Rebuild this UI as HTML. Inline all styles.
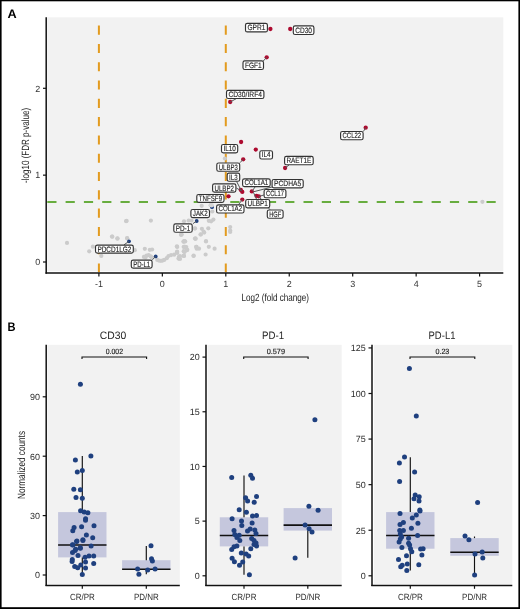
<!DOCTYPE html><html><head><meta charset="utf-8"><style>html,body{margin:0;padding:0;background:#fff;}svg{display:block;will-change:transform;text-rendering:geometricPrecision;font-family:"Liberation Sans",sans-serif;}</style></head><body>
<svg width="520" height="609" viewBox="0 0 520 609">
<rect x="0" y="0" width="520" height="609" fill="#fff"/>
<g transform="translate(7.6,18) scale(0.10191,0.1)"><text x="0" y="0" font-size="125.0" fill="#000" text-anchor="start" font-weight="bold" style="text-rendering:geometricPrecision" >A</text></g>
<g transform="translate(7.6,331) scale(0.08862,0.1)"><text x="0" y="0" font-size="125.0" fill="#000" text-anchor="start" font-weight="bold" style="text-rendering:geometricPrecision" >B</text></g>
<rect x="47.3" y="17.3" width="456.0" height="253.89999999999998" fill="#f2f2f2"/>
<line x1="98.90" y1="17.3" x2="98.90" y2="272.2" stroke="#e39b1f" stroke-width="2" stroke-dasharray="9.1 9.2" stroke-dashoffset="-8.30"/>
<line x1="225.80" y1="17.3" x2="225.80" y2="272.2" stroke="#e39b1f" stroke-width="2" stroke-dasharray="9.1 9.2" stroke-dashoffset="-8.30"/>
<line x1="47.3" y1="202" x2="503.3" y2="202" stroke="#68ad3f" stroke-width="1.8" stroke-dasharray="9.2 9.1" stroke-dashoffset="0"/>
<line x1="46.2" y1="17.3" x2="46.2" y2="273.8" stroke="#111" stroke-width="1.5"/>
<line x1="45.5" y1="273" x2="503.3" y2="273" stroke="#111" stroke-width="1.5"/>
<line x1="43" y1="262.00" x2="46" y2="262.00" stroke="#111" stroke-width="1.2"/>
<g transform="translate(40.2,265.3) scale(0.10000,0.1)"><text x="0" y="0" font-size="90.0" fill="#333" text-anchor="end" font-weight="normal" style="text-rendering:geometricPrecision" >0</text></g>
<line x1="43" y1="175.15" x2="46" y2="175.15" stroke="#111" stroke-width="1.2"/>
<g transform="translate(40.2,178.45000000000002) scale(0.10000,0.1)"><text x="0" y="0" font-size="90.0" fill="#333" text-anchor="end" font-weight="normal" style="text-rendering:geometricPrecision" >1</text></g>
<line x1="43" y1="88.30" x2="46" y2="88.30" stroke="#111" stroke-width="1.2"/>
<g transform="translate(40.2,91.60000000000001) scale(0.10000,0.1)"><text x="0" y="0" font-size="90.0" fill="#333" text-anchor="end" font-weight="normal" style="text-rendering:geometricPrecision" >2</text></g>
<line x1="98.90" y1="273" x2="98.90" y2="276.6" stroke="#111" stroke-width="1.2"/>
<g transform="translate(98.89999999999999,287.3) scale(0.10000,0.1)"><text x="0" y="0" font-size="90.0" fill="#333" text-anchor="middle" font-weight="normal" style="text-rendering:geometricPrecision" >-1</text></g>
<line x1="162.35" y1="273" x2="162.35" y2="276.6" stroke="#111" stroke-width="1.2"/>
<g transform="translate(162.35,287.3) scale(0.10000,0.1)"><text x="0" y="0" font-size="90.0" fill="#333" text-anchor="middle" font-weight="normal" style="text-rendering:geometricPrecision" >0</text></g>
<line x1="225.80" y1="273" x2="225.80" y2="276.6" stroke="#111" stroke-width="1.2"/>
<g transform="translate(225.8,287.3) scale(0.10000,0.1)"><text x="0" y="0" font-size="90.0" fill="#333" text-anchor="middle" font-weight="normal" style="text-rendering:geometricPrecision" >1</text></g>
<line x1="289.25" y1="273" x2="289.25" y2="276.6" stroke="#111" stroke-width="1.2"/>
<g transform="translate(289.25,287.3) scale(0.10000,0.1)"><text x="0" y="0" font-size="90.0" fill="#333" text-anchor="middle" font-weight="normal" style="text-rendering:geometricPrecision" >2</text></g>
<line x1="352.70" y1="273" x2="352.70" y2="276.6" stroke="#111" stroke-width="1.2"/>
<g transform="translate(352.70000000000005,287.3) scale(0.10000,0.1)"><text x="0" y="0" font-size="90.0" fill="#333" text-anchor="middle" font-weight="normal" style="text-rendering:geometricPrecision" >3</text></g>
<line x1="416.15" y1="273" x2="416.15" y2="276.6" stroke="#111" stroke-width="1.2"/>
<g transform="translate(416.15,287.3) scale(0.10000,0.1)"><text x="0" y="0" font-size="90.0" fill="#333" text-anchor="middle" font-weight="normal" style="text-rendering:geometricPrecision" >4</text></g>
<line x1="479.60" y1="273" x2="479.60" y2="276.6" stroke="#111" stroke-width="1.2"/>
<g transform="translate(479.6,287.3) scale(0.10000,0.1)"><text x="0" y="0" font-size="90.0" fill="#333" text-anchor="middle" font-weight="normal" style="text-rendering:geometricPrecision" >5</text></g>
<g transform="translate(275.3,301.3) scale(0.07697,0.1)"><text x="0" y="0" font-size="105.0" fill="#222" text-anchor="middle" font-weight="normal" style="text-rendering:geometricPrecision" >Log2 (fold change)</text></g>
<text x="0" y="0" font-size="10.5" fill="#222" text-anchor="middle" textLength="75" lengthAdjust="spacingAndGlyphs" transform="translate(29.2,145.4) rotate(-90)">-log10 (FDR p-value)</text>
<circle cx="67" cy="242.9" r="2.1" fill="#cbcbcb"/>
<circle cx="92.9" cy="246.7" r="2.1" fill="#cbcbcb"/>
<circle cx="89.2" cy="251.3" r="2.1" fill="#cbcbcb"/>
<circle cx="101.3" cy="255.9" r="2.1" fill="#cbcbcb"/>
<circle cx="112.3" cy="236.7" r="2.1" fill="#cbcbcb"/>
<circle cx="117.5" cy="238.7" r="2.1" fill="#cbcbcb"/>
<circle cx="127.1" cy="238.2" r="2.1" fill="#cbcbcb"/>
<circle cx="134.8" cy="250.2" r="2.1" fill="#cbcbcb"/>
<circle cx="126.1" cy="221.2" r="2.1" fill="#cbcbcb"/>
<circle cx="150.9" cy="220.6" r="2.1" fill="#cbcbcb"/>
<circle cx="144.8" cy="248.8" r="2.1" fill="#cbcbcb"/>
<circle cx="149.8" cy="249.8" r="2.1" fill="#cbcbcb"/>
<circle cx="152.1" cy="249.5" r="2.1" fill="#cbcbcb"/>
<circle cx="143.9" cy="256.9" r="2.1" fill="#cbcbcb"/>
<circle cx="146.5" cy="255.6" r="2.1" fill="#cbcbcb"/>
<circle cx="148.7" cy="255.1" r="2.1" fill="#cbcbcb"/>
<circle cx="150.8" cy="256.4" r="2.1" fill="#cbcbcb"/>
<circle cx="145.5" cy="257.5" r="2.1" fill="#cbcbcb"/>
<circle cx="152" cy="257.5" r="2.1" fill="#cbcbcb"/>
<circle cx="157.3" cy="259.9" r="2.1" fill="#cbcbcb"/>
<circle cx="159" cy="260.6" r="2.1" fill="#cbcbcb"/>
<circle cx="160.8" cy="260.8" r="2.1" fill="#cbcbcb"/>
<circle cx="162.5" cy="260.6" r="2.1" fill="#cbcbcb"/>
<circle cx="164.2" cy="259.9" r="2.1" fill="#cbcbcb"/>
<circle cx="166.8" cy="258.2" r="2.1" fill="#cbcbcb"/>
<circle cx="168.5" cy="256" r="2.1" fill="#cbcbcb"/>
<circle cx="171.1" cy="255.1" r="2.1" fill="#cbcbcb"/>
<circle cx="174.2" cy="254.7" r="2.1" fill="#cbcbcb"/>
<circle cx="177.2" cy="253" r="2.1" fill="#cbcbcb"/>
<circle cx="178.9" cy="256.9" r="2.1" fill="#cbcbcb"/>
<circle cx="178.5" cy="258.6" r="2.1" fill="#cbcbcb"/>
<circle cx="177.2" cy="246.9" r="2.1" fill="#cbcbcb"/>
<circle cx="177.2" cy="251.7" r="2.1" fill="#cbcbcb"/>
<circle cx="183.7" cy="246.9" r="2.1" fill="#cbcbcb"/>
<circle cx="183.7" cy="251.2" r="2.1" fill="#cbcbcb"/>
<circle cx="183.7" cy="255.6" r="2.1" fill="#cbcbcb"/>
<circle cx="183.7" cy="241.7" r="2.1" fill="#cbcbcb"/>
<circle cx="181" cy="234.8" r="2.1" fill="#cbcbcb"/>
<circle cx="184.4" cy="241.1" r="2.1" fill="#cbcbcb"/>
<circle cx="176.9" cy="246.3" r="2.1" fill="#cbcbcb"/>
<circle cx="185" cy="246.9" r="2.1" fill="#cbcbcb"/>
<circle cx="187.3" cy="249.8" r="2.1" fill="#cbcbcb"/>
<circle cx="184.4" cy="251.8" r="2.1" fill="#cbcbcb"/>
<circle cx="176.9" cy="252.1" r="2.1" fill="#cbcbcb"/>
<circle cx="179.2" cy="258.4" r="2.1" fill="#cbcbcb"/>
<circle cx="183.8" cy="255.9" r="2.1" fill="#cbcbcb"/>
<circle cx="193.6" cy="255.6" r="2.1" fill="#cbcbcb"/>
<circle cx="195.4" cy="238.6" r="2.1" fill="#cbcbcb"/>
<circle cx="196.5" cy="246.9" r="2.1" fill="#cbcbcb"/>
<circle cx="194.8" cy="228.5" r="2.1" fill="#cbcbcb"/>
<circle cx="201.7" cy="205.8" r="2.1" fill="#cbcbcb"/>
<circle cx="210.6" cy="205.2" r="2.1" fill="#cbcbcb"/>
<circle cx="212.3" cy="211.5" r="2.1" fill="#cbcbcb"/>
<circle cx="184" cy="221.3" r="2.1" fill="#cbcbcb"/>
<circle cx="188.7" cy="220.5" r="2.1" fill="#cbcbcb"/>
<circle cx="191.5" cy="220.5" r="2.1" fill="#cbcbcb"/>
<circle cx="208.8" cy="220.8" r="2.1" fill="#cbcbcb"/>
<circle cx="213.4" cy="219.6" r="2.1" fill="#cbcbcb"/>
<circle cx="211.1" cy="221.3" r="2.1" fill="#cbcbcb"/>
<circle cx="195" cy="228.3" r="2.1" fill="#cbcbcb"/>
<circle cx="201.9" cy="228.8" r="2.1" fill="#cbcbcb"/>
<circle cx="208.3" cy="228.3" r="2.1" fill="#cbcbcb"/>
<circle cx="203.6" cy="231.7" r="2.1" fill="#cbcbcb"/>
<circle cx="200.8" cy="234.4" r="2.1" fill="#cbcbcb"/>
<circle cx="181.7" cy="234.6" r="2.1" fill="#cbcbcb"/>
<circle cx="195" cy="238.6" r="2.1" fill="#cbcbcb"/>
<circle cx="184.6" cy="241" r="2.1" fill="#cbcbcb"/>
<circle cx="206" cy="241" r="2.1" fill="#cbcbcb"/>
<circle cx="230.2" cy="227.1" r="2.1" fill="#cbcbcb"/>
<circle cx="230.2" cy="230.6" r="2.1" fill="#cbcbcb"/>
<circle cx="181.2" cy="234.5" r="2.1" fill="#cbcbcb"/>
<circle cx="200.5" cy="234.5" r="2.1" fill="#cbcbcb"/>
<circle cx="204.2" cy="232.6" r="2.1" fill="#cbcbcb"/>
<circle cx="230.2" cy="232" r="2.1" fill="#cbcbcb"/>
<circle cx="183.5" cy="241.5" r="2.1" fill="#cbcbcb"/>
<circle cx="185.2" cy="241.5" r="2.1" fill="#cbcbcb"/>
<circle cx="195.6" cy="238.7" r="2.1" fill="#cbcbcb"/>
<circle cx="206" cy="241.5" r="2.1" fill="#cbcbcb"/>
<circle cx="184.6" cy="246.8" r="2.1" fill="#cbcbcb"/>
<circle cx="186.3" cy="247" r="2.1" fill="#cbcbcb"/>
<circle cx="196.1" cy="246.8" r="2.1" fill="#cbcbcb"/>
<circle cx="196.7" cy="248.7" r="2.1" fill="#cbcbcb"/>
<circle cx="199" cy="248.7" r="2.1" fill="#cbcbcb"/>
<circle cx="208.8" cy="246.8" r="2.1" fill="#cbcbcb"/>
<circle cx="214.6" cy="248.7" r="2.1" fill="#cbcbcb"/>
<circle cx="186.9" cy="250.2" r="2.1" fill="#cbcbcb"/>
<circle cx="184.6" cy="251.8" r="2.1" fill="#cbcbcb"/>
<circle cx="184" cy="256" r="2.1" fill="#cbcbcb"/>
<circle cx="193.6" cy="256" r="2.1" fill="#cbcbcb"/>
<circle cx="205.6" cy="254.5" r="2.1" fill="#cbcbcb"/>
<circle cx="180" cy="256.2" r="2.1" fill="#cbcbcb"/>
<circle cx="180" cy="259" r="2.1" fill="#cbcbcb"/>
<circle cx="126.6" cy="220.8" r="2.1" fill="#cbcbcb"/>
<circle cx="112" cy="236.5" r="2.1" fill="#cbcbcb"/>
<circle cx="117.4" cy="238.3" r="2.1" fill="#cbcbcb"/>
<circle cx="127.2" cy="238.3" r="2.1" fill="#cbcbcb"/>
<circle cx="224.9" cy="158.5" r="2.1" fill="#cbcbcb"/>
<circle cx="482.4" cy="201.8" r="2.1" fill="#cbcbcb"/>
<circle cx="270.4" cy="29" r="2.15" fill="#ad0a2f"/>
<circle cx="290.2" cy="29" r="2.15" fill="#ad0a2f"/>
<circle cx="266.7" cy="57.3" r="2.15" fill="#ad0a2f"/>
<circle cx="230.2" cy="102" r="2.15" fill="#ad0a2f"/>
<circle cx="365.7" cy="127.7" r="2.15" fill="#ad0a2f"/>
<circle cx="241.1" cy="142" r="2.15" fill="#ad0a2f"/>
<circle cx="255.8" cy="149.6" r="2.15" fill="#ad0a2f"/>
<circle cx="285.1" cy="168" r="2.15" fill="#ad0a2f"/>
<circle cx="243.2" cy="159.3" r="2.15" fill="#ad0a2f"/>
<circle cx="240.8" cy="190" r="2.15" fill="#ad0a2f"/>
<circle cx="242.3" cy="191.9" r="2.15" fill="#ad0a2f"/>
<circle cx="228.5" cy="196.3" r="2.15" fill="#ad0a2f"/>
<circle cx="242.3" cy="199.6" r="2.15" fill="#ad0a2f"/>
<circle cx="251.8" cy="191.4" r="2.15" fill="#ad0a2f"/>
<circle cx="256.5" cy="195.8" r="2.15" fill="#ad0a2f"/>
<circle cx="258.8" cy="196.3" r="2.15" fill="#ad0a2f"/>
<circle cx="196.7" cy="221" r="1.9" fill="#1d3f80"/>
<circle cx="212.0" cy="207.2" r="1.9" fill="#1d3f80"/>
<circle cx="129" cy="241.3" r="1.9" fill="#1d3f80"/>
<circle cx="155.7" cy="256.4" r="1.9" fill="#1d3f80"/>
<circle cx="211.6" cy="205.3" r="2.3" fill="#d6d6d6"/>
<line x1="266.7" y1="57.3" x2="263.3" y2="61" stroke="#555a5a" stroke-width="1"/>
<line x1="230.2" y1="102" x2="236" y2="98.8" stroke="#555a5a" stroke-width="1"/>
<line x1="365.7" y1="127.7" x2="363.4" y2="131.5" stroke="#555a5a" stroke-width="1"/>
<line x1="285.1" y1="168" x2="289" y2="165" stroke="#555a5a" stroke-width="1"/>
<line x1="243.2" y1="159.3" x2="240" y2="162.7" stroke="#555a5a" stroke-width="1"/>
<line x1="241.5" y1="191" x2="236.6" y2="181.5" stroke="#555a5a" stroke-width="1"/>
<line x1="252.1" y1="191.2" x2="255.4" y2="186.5" stroke="#555a5a" stroke-width="1"/>
<line x1="253.4" y1="191.8" x2="272" y2="187" stroke="#555a5a" stroke-width="1"/>
<line x1="258.8" y1="196.5" x2="263.8" y2="195" stroke="#555a5a" stroke-width="1"/>
<line x1="253.5" y1="192.5" x2="256.5" y2="199.2" stroke="#555a5a" stroke-width="1"/>
<line x1="242.3" y1="199.6" x2="238.6" y2="204.6" stroke="#555a5a" stroke-width="1"/>
<line x1="258.8" y1="196.3" x2="270" y2="209.7" stroke="#555a5a" stroke-width="1"/>
<line x1="196.7" y1="221" x2="193" y2="223.6" stroke="#555a5a" stroke-width="1"/>
<line x1="129" y1="241.3" x2="124" y2="244.8" stroke="#555a5a" stroke-width="1"/>
<line x1="155.7" y1="256.4" x2="152.4" y2="259.8" stroke="#555a5a" stroke-width="1"/>
<line x1="241.5" y1="191" x2="236.4" y2="188" stroke="#555a5a" stroke-width="1"/>
<rect x="245.50" y="23.30" width="21.90" height="8.65" rx="1.8" ry="1.8" fill="#fff" stroke="#333" stroke-width="1.15"/>
<g transform="translate(256.45,30.35) scale(0.08521,0.1)"><text x="0" y="0" font-size="78.0" fill="#222" text-anchor="middle" font-weight="normal" style="text-rendering:geometricPrecision" stroke="#222" stroke-width="1.2">GPR1</text></g>
<rect x="293.30" y="25.90" width="20.60" height="8.60" rx="1.8" ry="1.8" fill="#fff" stroke="#333" stroke-width="1.15"/>
<g transform="translate(303.60,32.90) scale(0.08424,0.1)"><text x="0" y="0" font-size="78.0" fill="#222" text-anchor="middle" font-weight="normal" style="text-rendering:geometricPrecision" stroke="#222" stroke-width="1.2">CD30</text></g>
<rect x="243.00" y="60.90" width="20.50" height="8.60" rx="1.8" ry="1.8" fill="#fff" stroke="#333" stroke-width="1.15"/>
<g transform="translate(253.25,67.90) scale(0.08378,0.1)"><text x="0" y="0" font-size="78.0" fill="#222" text-anchor="middle" font-weight="normal" style="text-rendering:geometricPrecision" stroke="#222" stroke-width="1.2">FGF1</text></g>
<rect x="226.50" y="90.30" width="37.40" height="8.20" rx="1.8" ry="1.8" fill="#fff" stroke="#333" stroke-width="1.15"/>
<g transform="translate(245.20,96.90) scale(0.08613,0.1)"><text x="0" y="0" font-size="78.0" fill="#222" text-anchor="middle" font-weight="normal" style="text-rendering:geometricPrecision" stroke="#222" stroke-width="1.2">CD30/IRF4</text></g>
<rect x="340.60" y="131.50" width="22.50" height="8.20" rx="1.8" ry="1.8" fill="#fff" stroke="#333" stroke-width="1.15"/>
<g transform="translate(351.85,138.10) scale(0.07702,0.1)"><text x="0" y="0" font-size="78.0" fill="#222" text-anchor="middle" font-weight="normal" style="text-rendering:geometricPrecision" stroke="#222" stroke-width="1.2">CCL22</text></g>
<rect x="221.50" y="144.50" width="16.20" height="8.40" rx="1.8" ry="1.8" fill="#fff" stroke="#333" stroke-width="1.15"/>
<g transform="translate(229.60,151.30) scale(0.08168,0.1)"><text x="0" y="0" font-size="78.0" fill="#222" text-anchor="middle" font-weight="normal" style="text-rendering:geometricPrecision" stroke="#222" stroke-width="1.2">IL10</text></g>
<rect x="259.80" y="150.70" width="12.70" height="8.30" rx="1.8" ry="1.8" fill="#fff" stroke="#333" stroke-width="1.15"/>
<g transform="translate(266.15,157.40) scale(0.08208,0.1)"><text x="0" y="0" font-size="78.0" fill="#222" text-anchor="middle" font-weight="normal" style="text-rendering:geometricPrecision" stroke="#222" stroke-width="1.2">IL4</text></g>
<rect x="284.60" y="156.40" width="28.60" height="8.30" rx="1.8" ry="1.8" fill="#fff" stroke="#333" stroke-width="1.15"/>
<g transform="translate(298.90,163.10) scale(0.08173,0.1)"><text x="0" y="0" font-size="78.0" fill="#222" text-anchor="middle" font-weight="normal" style="text-rendering:geometricPrecision" stroke="#222" stroke-width="1.2">RAET1E</text></g>
<rect x="216.80" y="163.00" width="22.90" height="8.20" rx="1.8" ry="1.8" fill="#fff" stroke="#333" stroke-width="1.15"/>
<g transform="translate(228.25,169.60) scale(0.07728,0.1)"><text x="0" y="0" font-size="78.0" fill="#222" text-anchor="middle" font-weight="normal" style="text-rendering:geometricPrecision" stroke="#222" stroke-width="1.2">ULBP3</text></g>
<rect x="227.20" y="173.10" width="12.50" height="8.10" rx="1.8" ry="1.8" fill="#fff" stroke="#333" stroke-width="1.15"/>
<g transform="translate(233.45,179.60) scale(0.08024,0.1)"><text x="0" y="0" font-size="78.0" fill="#222" text-anchor="middle" font-weight="normal" style="text-rendering:geometricPrecision" stroke="#222" stroke-width="1.2">IL3</text></g>
<rect x="242.60" y="178.80" width="27.60" height="7.80" rx="1.8" ry="1.8" fill="#fff" stroke="#333" stroke-width="1.15"/>
<g transform="translate(256.40,185.00) scale(0.07955,0.1)"><text x="0" y="0" font-size="78.0" fill="#222" text-anchor="middle" font-weight="normal" style="text-rendering:geometricPrecision" stroke="#222" stroke-width="1.2">COL1A1</text></g>
<rect x="272.10" y="179.50" width="31.10" height="8.30" rx="1.8" ry="1.8" fill="#fff" stroke="#333" stroke-width="1.15"/>
<g transform="translate(287.65,186.20) scale(0.08628,0.1)"><text x="0" y="0" font-size="78.0" fill="#222" text-anchor="middle" font-weight="normal" style="text-rendering:geometricPrecision" stroke="#222" stroke-width="1.2">PCDHA5</text></g>
<rect x="212.60" y="183.90" width="23.30" height="8.20" rx="1.8" ry="1.8" fill="#fff" stroke="#333" stroke-width="1.15"/>
<g transform="translate(224.25,190.50) scale(0.07890,0.1)"><text x="0" y="0" font-size="78.0" fill="#222" text-anchor="middle" font-weight="normal" style="text-rendering:geometricPrecision" stroke="#222" stroke-width="1.2">ULBP2</text></g>
<rect x="264.10" y="189.50" width="21.80" height="8.20" rx="1.8" ry="1.8" fill="#fff" stroke="#333" stroke-width="1.15"/>
<g transform="translate(275.00,196.10) scale(0.07414,0.1)"><text x="0" y="0" font-size="78.0" fill="#222" text-anchor="middle" font-weight="normal" style="text-rendering:geometricPrecision" stroke="#222" stroke-width="1.2">CCL17</text></g>
<rect x="196.80" y="194.50" width="27.20" height="7.90" rx="1.8" ry="1.8" fill="#fff" stroke="#333" stroke-width="1.15"/>
<g transform="translate(210.40,200.80) scale(0.07941,0.1)"><text x="0" y="0" font-size="78.0" fill="#222" text-anchor="middle" font-weight="normal" style="text-rendering:geometricPrecision" stroke="#222" stroke-width="1.2">TNFSF9</text></g>
<rect x="245.70" y="199.50" width="24.00" height="8.40" rx="1.8" ry="1.8" fill="#fff" stroke="#333" stroke-width="1.15"/>
<g transform="translate(257.70,206.30) scale(0.08173,0.1)"><text x="0" y="0" font-size="78.0" fill="#222" text-anchor="middle" font-weight="normal" style="text-rendering:geometricPrecision" stroke="#222" stroke-width="1.2">ULBP1</text></g>
<rect x="216.60" y="204.90" width="27.40" height="8.10" rx="1.8" ry="1.8" fill="#fff" stroke="#333" stroke-width="1.15"/>
<g transform="translate(230.30,211.40) scale(0.07889,0.1)"><text x="0" y="0" font-size="78.0" fill="#222" text-anchor="middle" font-weight="normal" style="text-rendering:geometricPrecision" stroke="#222" stroke-width="1.2">COL1A2</text></g>
<rect x="267.30" y="210.00" width="15.80" height="8.20" rx="1.8" ry="1.8" fill="#fff" stroke="#333" stroke-width="1.15"/>
<g transform="translate(275.20,216.60) scale(0.07288,0.1)"><text x="0" y="0" font-size="78.0" fill="#222" text-anchor="middle" font-weight="normal" style="text-rendering:geometricPrecision" stroke="#222" stroke-width="1.2">HGF</text></g>
<rect x="190.90" y="209.50" width="18.60" height="8.10" rx="1.8" ry="1.8" fill="#fff" stroke="#333" stroke-width="1.15"/>
<g transform="translate(200.20,216.00) scale(0.07939,0.1)"><text x="0" y="0" font-size="78.0" fill="#222" text-anchor="middle" font-weight="normal" style="text-rendering:geometricPrecision" stroke="#222" stroke-width="1.2">JAK2</text></g>
<rect x="173.80" y="223.90" width="18.40" height="8.40" rx="1.8" ry="1.8" fill="#fff" stroke="#333" stroke-width="1.15"/>
<g transform="translate(183.00,230.70) scale(0.08216,0.1)"><text x="0" y="0" font-size="78.0" fill="#222" text-anchor="middle" font-weight="normal" style="text-rendering:geometricPrecision" stroke="#222" stroke-width="1.2">PD-1</text></g>
<rect x="95.50" y="245.10" width="37.80" height="8.00" rx="1.8" ry="1.8" fill="#fff" stroke="#333" stroke-width="1.15"/>
<g transform="translate(114.40,251.50) scale(0.08256,0.1)"><text x="0" y="0" font-size="78.0" fill="#222" text-anchor="middle" font-weight="normal" style="text-rendering:geometricPrecision" stroke="#222" stroke-width="1.2">PDCD1LG2</text></g>
<rect x="131.30" y="260.10" width="20.80" height="8.00" rx="1.8" ry="1.8" fill="#fff" stroke="#333" stroke-width="1.15"/>
<g transform="translate(141.70,266.50) scale(0.07689,0.1)"><text x="0" y="0" font-size="78.0" fill="#222" text-anchor="middle" font-weight="normal" style="text-rendering:geometricPrecision" stroke="#222" stroke-width="1.2">PD-L1</text></g>
<rect x="47.5" y="344.8" width="132.30" height="239.50" fill="#f2f2f2"/>
<rect x="58.10" y="512.1" width="48.4" height="45.30" fill="#c5c7dd"/>
<line x1="82.3" y1="456.0" x2="82.3" y2="512.1" stroke="#111" stroke-width="1.15"/>
<line x1="82.3" y1="557.4" x2="82.3" y2="574.6" stroke="#111" stroke-width="1.15"/>
<line x1="58.10" y1="545.0" x2="106.50" y2="545.0" stroke="#111" stroke-width="1.6"/>
<rect x="122.10" y="560.2" width="48.4" height="9.10" fill="#c5c7dd"/>
<line x1="146.3" y1="546.1" x2="146.3" y2="560.2" stroke="#111" stroke-width="1.15"/>
<line x1="146.3" y1="569.3" x2="146.3" y2="574.3" stroke="#111" stroke-width="1.15"/>
<line x1="122.10" y1="569.2" x2="170.50" y2="569.2" stroke="#111" stroke-width="1.6"/>
<circle cx="80.4" cy="384.2" r="2.5" fill="#1f407f"/>
<circle cx="90.9" cy="456" r="2.5" fill="#1f407f"/>
<circle cx="75.4" cy="460.1" r="2.5" fill="#1f407f"/>
<circle cx="77.3" cy="471.9" r="2.5" fill="#1f407f"/>
<circle cx="82.3" cy="470.6" r="2.5" fill="#1f407f"/>
<circle cx="73.8" cy="489.3" r="2.5" fill="#1f407f"/>
<circle cx="80.4" cy="489.7" r="2.5" fill="#1f407f"/>
<circle cx="76" cy="497.6" r="2.5" fill="#1f407f"/>
<circle cx="82.3" cy="498.2" r="2.5" fill="#1f407f"/>
<circle cx="80.6" cy="510.7" r="2.5" fill="#1f407f"/>
<circle cx="84.2" cy="512" r="2.5" fill="#1f407f"/>
<circle cx="87.9" cy="512.7" r="2.5" fill="#1f407f"/>
<circle cx="85.6" cy="518.8" r="2.5" fill="#1f407f"/>
<circle cx="85.5" cy="520.2" r="2.5" fill="#1f407f"/>
<circle cx="74.1" cy="527.4" r="2.5" fill="#1f407f"/>
<circle cx="72.8" cy="530.7" r="2.5" fill="#1f407f"/>
<circle cx="81.6" cy="526.7" r="2.5" fill="#1f407f"/>
<circle cx="94" cy="525.8" r="2.5" fill="#1f407f"/>
<circle cx="86.4" cy="535.1" r="2.5" fill="#1f407f"/>
<circle cx="92.7" cy="537.7" r="2.5" fill="#1f407f"/>
<circle cx="82.9" cy="539.8" r="2.5" fill="#1f407f"/>
<circle cx="76.6" cy="541.4" r="2.5" fill="#1f407f"/>
<circle cx="72.5" cy="544.8" r="2.5" fill="#1f407f"/>
<circle cx="91.1" cy="546.1" r="2.5" fill="#1f407f"/>
<circle cx="80.3" cy="547.7" r="2.5" fill="#1f407f"/>
<circle cx="75.6" cy="549.2" r="2.5" fill="#1f407f"/>
<circle cx="72.8" cy="545" r="2.5" fill="#1f407f"/>
<circle cx="80.3" cy="548.2" r="2.5" fill="#1f407f"/>
<circle cx="75.1" cy="550.4" r="2.5" fill="#1f407f"/>
<circle cx="72.5" cy="552.5" r="2.5" fill="#1f407f"/>
<circle cx="78" cy="555.4" r="2.5" fill="#1f407f"/>
<circle cx="85.1" cy="557.3" r="2.5" fill="#1f407f"/>
<circle cx="89" cy="556" r="2.5" fill="#1f407f"/>
<circle cx="93.7" cy="556" r="2.5" fill="#1f407f"/>
<circle cx="72.3" cy="559.5" r="2.5" fill="#1f407f"/>
<circle cx="72.1" cy="561.6" r="2.5" fill="#1f407f"/>
<circle cx="85.5" cy="562.1" r="2.5" fill="#1f407f"/>
<circle cx="93.7" cy="563.4" r="2.5" fill="#1f407f"/>
<circle cx="74.7" cy="566.4" r="2.5" fill="#1f407f"/>
<circle cx="77.7" cy="567.7" r="2.5" fill="#1f407f"/>
<circle cx="80.8" cy="565.1" r="2.5" fill="#1f407f"/>
<circle cx="85.5" cy="568.1" r="2.5" fill="#1f407f"/>
<circle cx="82.3" cy="574.6" r="2.5" fill="#1f407f"/>
<circle cx="76.9" cy="540.9" r="2.5" fill="#1f407f"/>
<circle cx="82.9" cy="540.4" r="2.5" fill="#1f407f"/>
<circle cx="151" cy="545.7" r="2.5" fill="#1f407f"/>
<circle cx="151.5" cy="558.8" r="2.5" fill="#1f407f"/>
<circle cx="152.4" cy="560.9" r="2.5" fill="#1f407f"/>
<circle cx="137.6" cy="568.9" r="2.5" fill="#1f407f"/>
<circle cx="138.9" cy="574.3" r="2.5" fill="#1f407f"/>
<circle cx="147.7" cy="569.9" r="2.5" fill="#1f407f"/>
<circle cx="155.1" cy="568.9" r="2.5" fill="#1f407f"/>
<line x1="46.2" y1="344.8" x2="46.2" y2="586.1" stroke="#111" stroke-width="1.5"/>
<line x1="45.5" y1="585.4" x2="179.8" y2="585.4" stroke="#111" stroke-width="1.5"/>
<line x1="42.7" y1="575.00" x2="46.2" y2="575.00" stroke="#111" stroke-width="1.2"/>
<g transform="translate(39.90,578.30) scale(0.10000,0.1)"><text x="0" y="0" font-size="90.0" fill="#2b2b2b" text-anchor="end" font-weight="normal" style="text-rendering:geometricPrecision" >0</text></g>
<line x1="42.7" y1="515.60" x2="46.2" y2="515.60" stroke="#111" stroke-width="1.2"/>
<g transform="translate(39.90,518.90) scale(0.10000,0.1)"><text x="0" y="0" font-size="90.0" fill="#2b2b2b" text-anchor="end" font-weight="normal" style="text-rendering:geometricPrecision" >30</text></g>
<line x1="42.7" y1="456.20" x2="46.2" y2="456.20" stroke="#111" stroke-width="1.2"/>
<g transform="translate(39.90,459.50) scale(0.10000,0.1)"><text x="0" y="0" font-size="90.0" fill="#2b2b2b" text-anchor="end" font-weight="normal" style="text-rendering:geometricPrecision" >60</text></g>
<line x1="42.7" y1="396.80" x2="46.2" y2="396.80" stroke="#111" stroke-width="1.2"/>
<g transform="translate(39.90,400.10) scale(0.10000,0.1)"><text x="0" y="0" font-size="90.0" fill="#2b2b2b" text-anchor="end" font-weight="normal" style="text-rendering:geometricPrecision" >90</text></g>
<line x1="82.3" y1="585.4" x2="82.3" y2="588.8" stroke="#111" stroke-width="1.2"/>
<g transform="translate(82.3,599.6) scale(0.08856,0.1)"><text x="0" y="0" font-size="90.0" fill="#2b2b2b" text-anchor="middle" font-weight="normal" style="text-rendering:geometricPrecision" >CR/PR</text></g>
<line x1="146.3" y1="585.4" x2="146.3" y2="588.8" stroke="#111" stroke-width="1.2"/>
<g transform="translate(146.3,599.6) scale(0.08856,0.1)"><text x="0" y="0" font-size="90.0" fill="#2b2b2b" text-anchor="middle" font-weight="normal" style="text-rendering:geometricPrecision" >PD/NR</text></g>
<g transform="translate(113.1,339.1) scale(0.09597,0.1)"><text x="0" y="0" font-size="108.0" fill="#262626" text-anchor="middle" font-weight="normal" style="text-rendering:geometricPrecision" >CD30</text></g>
<path d="M82.0 359.0 V357.0 H146.60000000000002 V359.0" fill="none" stroke="#111" stroke-width="1.1"/>
<g transform="translate(114.4,353.9) scale(0.09044,0.1)"><text x="0" y="0" font-size="76.0" fill="#1e1e1e" text-anchor="middle" font-weight="normal" style="text-rendering:geometricPrecision" stroke="#1e1e1e" stroke-width="1.5">0.002</text></g>
<rect x="207.6" y="344.8" width="134.10" height="239.50" fill="#f2f2f2"/>
<rect x="219.80" y="517.3" width="48.4" height="29.10" fill="#c5c7dd"/>
<line x1="244.0" y1="475.5" x2="244.0" y2="517.3" stroke="#111" stroke-width="1.15"/>
<line x1="244.0" y1="546.4" x2="244.0" y2="574.7" stroke="#111" stroke-width="1.15"/>
<line x1="219.80" y1="535.5" x2="268.20" y2="535.5" stroke="#111" stroke-width="1.6"/>
<rect x="283.60" y="508.1" width="48.4" height="22.50" fill="#c5c7dd"/>
<line x1="307.8" y1="508.1" x2="307.8" y2="508.1" stroke="#111" stroke-width="1.15"/>
<line x1="307.8" y1="530.6" x2="307.8" y2="557.7" stroke="#111" stroke-width="1.15"/>
<line x1="283.60" y1="525.1" x2="332.00" y2="525.1" stroke="#111" stroke-width="1.6"/>
<circle cx="231.7" cy="477.5" r="2.5" fill="#1f407f"/>
<circle cx="250.8" cy="475.2" r="2.5" fill="#1f407f"/>
<circle cx="252.5" cy="478.3" r="2.5" fill="#1f407f"/>
<circle cx="245.6" cy="497.7" r="2.5" fill="#1f407f"/>
<circle cx="247.6" cy="501.1" r="2.5" fill="#1f407f"/>
<circle cx="256.5" cy="496.5" r="2.5" fill="#1f407f"/>
<circle cx="254.2" cy="502.3" r="2.5" fill="#1f407f"/>
<circle cx="239.2" cy="509.8" r="2.5" fill="#1f407f"/>
<circle cx="246.4" cy="512.3" r="2.5" fill="#1f407f"/>
<circle cx="252.5" cy="516.1" r="2.5" fill="#1f407f"/>
<circle cx="256.5" cy="515.6" r="2.5" fill="#1f407f"/>
<circle cx="232.1" cy="518.7" r="2.5" fill="#1f407f"/>
<circle cx="241.5" cy="521" r="2.5" fill="#1f407f"/>
<circle cx="241.8" cy="525.6" r="2.5" fill="#1f407f"/>
<circle cx="252.1" cy="523.1" r="2.5" fill="#1f407f"/>
<circle cx="247.5" cy="531.1" r="2.5" fill="#1f407f"/>
<circle cx="250.2" cy="529.1" r="2.5" fill="#1f407f"/>
<circle cx="254.8" cy="530" r="2.5" fill="#1f407f"/>
<circle cx="256" cy="533.5" r="2.5" fill="#1f407f"/>
<circle cx="234" cy="530.6" r="2.5" fill="#1f407f"/>
<circle cx="234.8" cy="534.6" r="2.5" fill="#1f407f"/>
<circle cx="239.2" cy="535.2" r="2.5" fill="#1f407f"/>
<circle cx="236.9" cy="537.5" r="2.5" fill="#1f407f"/>
<circle cx="239.8" cy="540.4" r="2.5" fill="#1f407f"/>
<circle cx="251.7" cy="538.6" r="2.5" fill="#1f407f"/>
<circle cx="254" cy="540.4" r="2.5" fill="#1f407f"/>
<circle cx="256" cy="542.9" r="2.5" fill="#1f407f"/>
<circle cx="256.5" cy="545.9" r="2.5" fill="#1f407f"/>
<circle cx="254" cy="544.4" r="2.5" fill="#1f407f"/>
<circle cx="236.9" cy="546.1" r="2.5" fill="#1f407f"/>
<circle cx="234" cy="546.7" r="2.5" fill="#1f407f"/>
<circle cx="231.7" cy="549.4" r="2.5" fill="#1f407f"/>
<circle cx="250.8" cy="548.7" r="2.5" fill="#1f407f"/>
<circle cx="241.3" cy="553.1" r="2.5" fill="#1f407f"/>
<circle cx="246.1" cy="554" r="2.5" fill="#1f407f"/>
<circle cx="248.7" cy="556" r="2.5" fill="#1f407f"/>
<circle cx="232.1" cy="558.3" r="2.5" fill="#1f407f"/>
<circle cx="234.4" cy="561.7" r="2.5" fill="#1f407f"/>
<circle cx="242.7" cy="562.1" r="2.5" fill="#1f407f"/>
<circle cx="239.5" cy="565.2" r="2.5" fill="#1f407f"/>
<circle cx="249.4" cy="574.7" r="2.5" fill="#1f407f"/>
<circle cx="314.9" cy="419.8" r="2.5" fill="#1f407f"/>
<circle cx="308.9" cy="506.3" r="2.5" fill="#1f407f"/>
<circle cx="318.1" cy="510.2" r="2.5" fill="#1f407f"/>
<circle cx="305.1" cy="525.1" r="2.5" fill="#1f407f"/>
<circle cx="309.1" cy="528.8" r="2.5" fill="#1f407f"/>
<circle cx="312" cy="532.1" r="2.5" fill="#1f407f"/>
<circle cx="295.1" cy="557.9" r="2.5" fill="#1f407f"/>
<line x1="206.0" y1="344.8" x2="206.0" y2="586.1" stroke="#111" stroke-width="1.5"/>
<line x1="205.3" y1="585.4" x2="341.7" y2="585.4" stroke="#111" stroke-width="1.5"/>
<line x1="202.5" y1="575.80" x2="206.0" y2="575.80" stroke="#111" stroke-width="1.2"/>
<g transform="translate(199.70,579.10) scale(0.10000,0.1)"><text x="0" y="0" font-size="90.0" fill="#2b2b2b" text-anchor="end" font-weight="normal" style="text-rendering:geometricPrecision" >0</text></g>
<line x1="202.5" y1="521.12" x2="206.0" y2="521.12" stroke="#111" stroke-width="1.2"/>
<g transform="translate(199.70,524.42) scale(0.10000,0.1)"><text x="0" y="0" font-size="90.0" fill="#2b2b2b" text-anchor="end" font-weight="normal" style="text-rendering:geometricPrecision" >5</text></g>
<line x1="202.5" y1="466.45" x2="206.0" y2="466.45" stroke="#111" stroke-width="1.2"/>
<g transform="translate(199.70,469.75) scale(0.10000,0.1)"><text x="0" y="0" font-size="90.0" fill="#2b2b2b" text-anchor="end" font-weight="normal" style="text-rendering:geometricPrecision" >10</text></g>
<line x1="202.5" y1="411.77" x2="206.0" y2="411.77" stroke="#111" stroke-width="1.2"/>
<g transform="translate(199.70,415.07) scale(0.10000,0.1)"><text x="0" y="0" font-size="90.0" fill="#2b2b2b" text-anchor="end" font-weight="normal" style="text-rendering:geometricPrecision" >15</text></g>
<line x1="202.5" y1="357.10" x2="206.0" y2="357.10" stroke="#111" stroke-width="1.2"/>
<g transform="translate(199.70,360.40) scale(0.10000,0.1)"><text x="0" y="0" font-size="90.0" fill="#2b2b2b" text-anchor="end" font-weight="normal" style="text-rendering:geometricPrecision" >20</text></g>
<line x1="244.0" y1="585.4" x2="244.0" y2="588.8" stroke="#111" stroke-width="1.2"/>
<g transform="translate(244.0,599.6) scale(0.08856,0.1)"><text x="0" y="0" font-size="90.0" fill="#2b2b2b" text-anchor="middle" font-weight="normal" style="text-rendering:geometricPrecision" >CR/PR</text></g>
<line x1="307.8" y1="585.4" x2="307.8" y2="588.8" stroke="#111" stroke-width="1.2"/>
<g transform="translate(307.8,599.6) scale(0.08856,0.1)"><text x="0" y="0" font-size="90.0" fill="#2b2b2b" text-anchor="middle" font-weight="normal" style="text-rendering:geometricPrecision" >PD/NR</text></g>
<g transform="translate(273.0,339.1) scale(0.08941,0.1)"><text x="0" y="0" font-size="108.0" fill="#262626" text-anchor="middle" font-weight="normal" style="text-rendering:geometricPrecision" >PD-1</text></g>
<path d="M243.7 359.0 V357.0 H308.1 V359.0" fill="none" stroke="#111" stroke-width="1.1"/>
<g transform="translate(275.8,353.9) scale(0.09622,0.1)"><text x="0" y="0" font-size="76.0" fill="#1e1e1e" text-anchor="middle" font-weight="normal" style="text-rendering:geometricPrecision" stroke="#1e1e1e" stroke-width="1.5">0.579</text></g>
<rect x="374.0" y="344.8" width="138.30" height="239.50" fill="#f2f2f2"/>
<rect x="386.10" y="512.1" width="48.4" height="36.60" fill="#c5c7dd"/>
<line x1="410.3" y1="457.3" x2="410.3" y2="512.1" stroke="#111" stroke-width="1.15"/>
<line x1="410.3" y1="548.7" x2="410.3" y2="570.4" stroke="#111" stroke-width="1.15"/>
<line x1="386.10" y1="535.5" x2="434.50" y2="535.5" stroke="#111" stroke-width="1.6"/>
<rect x="450.30" y="538.1" width="48.4" height="17.70" fill="#c5c7dd"/>
<line x1="474.5" y1="536.5" x2="474.5" y2="538.1" stroke="#111" stroke-width="1.15"/>
<line x1="474.5" y1="555.8" x2="474.5" y2="574.9" stroke="#111" stroke-width="1.15"/>
<line x1="450.30" y1="552.3" x2="498.70" y2="552.3" stroke="#111" stroke-width="1.6"/>
<circle cx="409.4" cy="368.4" r="2.5" fill="#1f407f"/>
<circle cx="416.3" cy="415.9" r="2.5" fill="#1f407f"/>
<circle cx="404.5" cy="457.1" r="2.5" fill="#1f407f"/>
<circle cx="399.4" cy="463.1" r="2.5" fill="#1f407f"/>
<circle cx="414.6" cy="472.1" r="2.5" fill="#1f407f"/>
<circle cx="399.6" cy="481.5" r="2.5" fill="#1f407f"/>
<circle cx="415.2" cy="495.1" r="2.5" fill="#1f407f"/>
<circle cx="419.2" cy="496.7" r="2.5" fill="#1f407f"/>
<circle cx="414" cy="498.8" r="2.5" fill="#1f407f"/>
<circle cx="419" cy="501.1" r="2.5" fill="#1f407f"/>
<circle cx="419.8" cy="510" r="2.5" fill="#1f407f"/>
<circle cx="420" cy="510.9" r="2.5" fill="#1f407f"/>
<circle cx="400" cy="513.4" r="2.5" fill="#1f407f"/>
<circle cx="416.3" cy="514.9" r="2.5" fill="#1f407f"/>
<circle cx="412.3" cy="517.9" r="2.5" fill="#1f407f"/>
<circle cx="403.4" cy="522.5" r="2.5" fill="#1f407f"/>
<circle cx="400" cy="524.5" r="2.5" fill="#1f407f"/>
<circle cx="417.9" cy="523.2" r="2.5" fill="#1f407f"/>
<circle cx="411.4" cy="528.2" r="2.5" fill="#1f407f"/>
<circle cx="399.7" cy="530.6" r="2.5" fill="#1f407f"/>
<circle cx="403.4" cy="530.6" r="2.5" fill="#1f407f"/>
<circle cx="400.3" cy="533.9" r="2.5" fill="#1f407f"/>
<circle cx="401.6" cy="537" r="2.5" fill="#1f407f"/>
<circle cx="400.3" cy="538.9" r="2.5" fill="#1f407f"/>
<circle cx="417.6" cy="535.5" r="2.5" fill="#1f407f"/>
<circle cx="408.6" cy="538.3" r="2.5" fill="#1f407f"/>
<circle cx="399.1" cy="541.9" r="2.5" fill="#1f407f"/>
<circle cx="408.6" cy="543.2" r="2.5" fill="#1f407f"/>
<circle cx="409.6" cy="545" r="2.5" fill="#1f407f"/>
<circle cx="401.9" cy="547.5" r="2.5" fill="#1f407f"/>
<circle cx="410.5" cy="548.7" r="2.5" fill="#1f407f"/>
<circle cx="411.8" cy="551.8" r="2.5" fill="#1f407f"/>
<circle cx="420.6" cy="549.1" r="2.5" fill="#1f407f"/>
<circle cx="423.1" cy="548.7" r="2.5" fill="#1f407f"/>
<circle cx="421.9" cy="554.9" r="2.5" fill="#1f407f"/>
<circle cx="406.5" cy="555.7" r="2.5" fill="#1f407f"/>
<circle cx="398.5" cy="559.4" r="2.5" fill="#1f407f"/>
<circle cx="407.3" cy="563.9" r="2.5" fill="#1f407f"/>
<circle cx="402.2" cy="565.3" r="2.5" fill="#1f407f"/>
<circle cx="400.7" cy="566.8" r="2.5" fill="#1f407f"/>
<circle cx="418.8" cy="564.7" r="2.5" fill="#1f407f"/>
<circle cx="406.8" cy="570.5" r="2.5" fill="#1f407f"/>
<circle cx="477.6" cy="502.6" r="2.5" fill="#1f407f"/>
<circle cx="465" cy="535.9" r="2.5" fill="#1f407f"/>
<circle cx="468.9" cy="539.7" r="2.5" fill="#1f407f"/>
<circle cx="475" cy="553.9" r="2.5" fill="#1f407f"/>
<circle cx="482.2" cy="551.9" r="2.5" fill="#1f407f"/>
<circle cx="482.8" cy="558.1" r="2.5" fill="#1f407f"/>
<circle cx="474.6" cy="574.9" r="2.5" fill="#1f407f"/>
<line x1="372.0" y1="344.8" x2="372.0" y2="586.1" stroke="#111" stroke-width="1.5"/>
<line x1="371.3" y1="585.4" x2="512.3" y2="585.4" stroke="#111" stroke-width="1.5"/>
<line x1="368.5" y1="575.80" x2="372.0" y2="575.80" stroke="#111" stroke-width="1.2"/>
<g transform="translate(365.70,579.10) scale(0.10000,0.1)"><text x="0" y="0" font-size="90.0" fill="#2b2b2b" text-anchor="end" font-weight="normal" style="text-rendering:geometricPrecision" >0</text></g>
<line x1="368.5" y1="530.22" x2="372.0" y2="530.22" stroke="#111" stroke-width="1.2"/>
<g transform="translate(365.70,533.52) scale(0.10000,0.1)"><text x="0" y="0" font-size="90.0" fill="#2b2b2b" text-anchor="end" font-weight="normal" style="text-rendering:geometricPrecision" >25</text></g>
<line x1="368.5" y1="484.65" x2="372.0" y2="484.65" stroke="#111" stroke-width="1.2"/>
<g transform="translate(365.70,487.95) scale(0.10000,0.1)"><text x="0" y="0" font-size="90.0" fill="#2b2b2b" text-anchor="end" font-weight="normal" style="text-rendering:geometricPrecision" >50</text></g>
<line x1="368.5" y1="439.07" x2="372.0" y2="439.07" stroke="#111" stroke-width="1.2"/>
<g transform="translate(365.70,442.37) scale(0.10000,0.1)"><text x="0" y="0" font-size="90.0" fill="#2b2b2b" text-anchor="end" font-weight="normal" style="text-rendering:geometricPrecision" >75</text></g>
<line x1="368.5" y1="393.50" x2="372.0" y2="393.50" stroke="#111" stroke-width="1.2"/>
<g transform="translate(365.70,396.80) scale(0.10000,0.1)"><text x="0" y="0" font-size="90.0" fill="#2b2b2b" text-anchor="end" font-weight="normal" style="text-rendering:geometricPrecision" >100</text></g>
<line x1="368.5" y1="347.92" x2="372.0" y2="347.92" stroke="#111" stroke-width="1.2"/>
<g transform="translate(365.70,351.22) scale(0.10000,0.1)"><text x="0" y="0" font-size="90.0" fill="#2b2b2b" text-anchor="end" font-weight="normal" style="text-rendering:geometricPrecision" >125</text></g>
<line x1="410.3" y1="585.4" x2="410.3" y2="588.8" stroke="#111" stroke-width="1.2"/>
<g transform="translate(410.3,599.6) scale(0.08856,0.1)"><text x="0" y="0" font-size="90.0" fill="#2b2b2b" text-anchor="middle" font-weight="normal" style="text-rendering:geometricPrecision" >CR/PR</text></g>
<line x1="474.5" y1="585.4" x2="474.5" y2="588.8" stroke="#111" stroke-width="1.2"/>
<g transform="translate(474.5,599.6) scale(0.08856,0.1)"><text x="0" y="0" font-size="90.0" fill="#2b2b2b" text-anchor="middle" font-weight="normal" style="text-rendering:geometricPrecision" >PD/NR</text></g>
<g transform="translate(442.0,339.1) scale(0.08820,0.1)"><text x="0" y="0" font-size="108.0" fill="#262626" text-anchor="middle" font-weight="normal" style="text-rendering:geometricPrecision" >PD-L1</text></g>
<path d="M410.0 359.0 V357.0 H474.8 V359.0" fill="none" stroke="#111" stroke-width="1.1"/>
<g transform="translate(442.4,353.9) scale(0.09329,0.1)"><text x="0" y="0" font-size="76.0" fill="#1e1e1e" text-anchor="middle" font-weight="normal" style="text-rendering:geometricPrecision" stroke="#1e1e1e" stroke-width="1.5">0.23</text></g>
<text x="0" y="0" font-size="10.5" fill="#222" text-anchor="middle" textLength="68" lengthAdjust="spacingAndGlyphs" transform="translate(25.4,465) rotate(-90)">Normalized counts</text>
<rect x="0" y="0" width="520" height="1.3" fill="#000"/><rect x="0" y="0" width="1.6" height="609" fill="#000"/><rect x="518.4" y="0" width="1.6" height="609" fill="#000"/><rect x="0" y="607.2" width="520" height="1.8" fill="#000"/>
</svg></body></html>
